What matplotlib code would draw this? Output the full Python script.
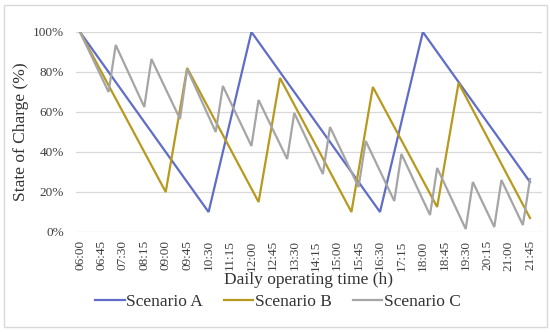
import matplotlib
matplotlib.use("Agg")
import matplotlib.pyplot as plt
from matplotlib.patches import Rectangle
from matplotlib.ticker import PercentFormatter

plt.rcParams['font.family'] = ['Liberation Serif', 'DejaVu Serif']

# 15-minute slots of the operating day (category axis)
times = [f"{h:02d}:{m:02d}" for h in range(6, 22) for m in (0, 15, 30, 45)]

# turning points of each state-of-charge curve (time, %)
a_times = ["06:00", "10:30", "12:00", "16:30", "18:00", "21:45"]
a_soc = [100, 10, 100, 10, 100, 25]

b_times = ["06:00", "09:00", "09:45", "12:15", "13:00", "15:30", "16:15",
           "18:30", "19:15", "21:45"]
b_soc = [100, 20, 82, 15, 77, 10, 72.5, 12.5, 74.5, 7]

c_times = ["06:00", "07:00", "07:15", "08:15", "08:30", "09:30", "09:45",
           "10:45", "11:00", "12:00", "12:15", "13:15", "13:30", "14:30",
           "14:45", "15:45", "16:00", "17:00", "17:15", "18:15", "18:30",
           "19:30", "19:45", "20:30", "20:45", "21:30", "21:45"]
c_soc = [100, 70, 93.5, 62.5, 86.5, 56.5, 81.5, 50, 73, 43, 66, 36.5, 59.5,
         29, 52.5, 22.5, 45.5, 15.5, 39, 8.5, 32, 1.5, 25, 2.5, 26, 3.5, 26.5]

series = [("Scenario A", a_times, a_soc, '#5f6dc8'),
          ("Scenario B", b_times, b_soc, '#b8991f'),
          ("Scenario C", c_times, c_soc, '#a5a5a5')]

fig = plt.figure(figsize=(5.5, 3.32), dpi=100)
ax = fig.add_axes([76 / 550, 100 / 332, 466 / 550, 200 / 332])

for name, t, v, col in series:
    x = [times.index(s) for s in t]
    ax.plot(x, v, color=col, lw=1.6, label=name, solid_joinstyle='miter')

ax.set_ylim(0, 100)
ax.set_xlim(-0.56, 64.68)
ax.set_yticks(range(0, 101, 20))
ax.yaxis.set_major_formatter(PercentFormatter(decimals=0))
ax.set_xticks(range(0, len(times), 3))
ax.set_xticklabels(times[::3], rotation=90)
ax.tick_params(length=0, labelsize=9.5, colors='#404040')
ax.tick_params(axis='y', pad=8.5)
ax.tick_params(axis='x', pad=6)
ax.grid(axis='y', color='#d9d9d9', lw=0.9)
ax.set_axisbelow(True)
for sp in ax.spines.values():
    sp.set_visible(False)

ax.set_xlabel("Daily operating time (h)", fontsize=12.5, color='#333333')
ax.set_ylabel("State of Charge (%)", fontsize=12.5, color='#333333')
ax.xaxis.set_label_coords(0.5, -0.2)
ax.yaxis.set_label_coords(-0.1, 0.5)

fig.legend(loc='center', bbox_to_anchor=(278 / 550, 1 - 302 / 332), ncol=3,
           frameon=False, fontsize=12.5, handlelength=1.7, handletextpad=0.1,
           columnspacing=1.2, labelcolor='#333333')

fig.patches.append(Rectangle((4 / 550, 5 / 332), 543 / 550, 322 / 332,
                             transform=fig.transFigure, fill=False,
                             edgecolor='#d9d9d9', lw=1))

fig.savefig("out.png", dpi=100)
